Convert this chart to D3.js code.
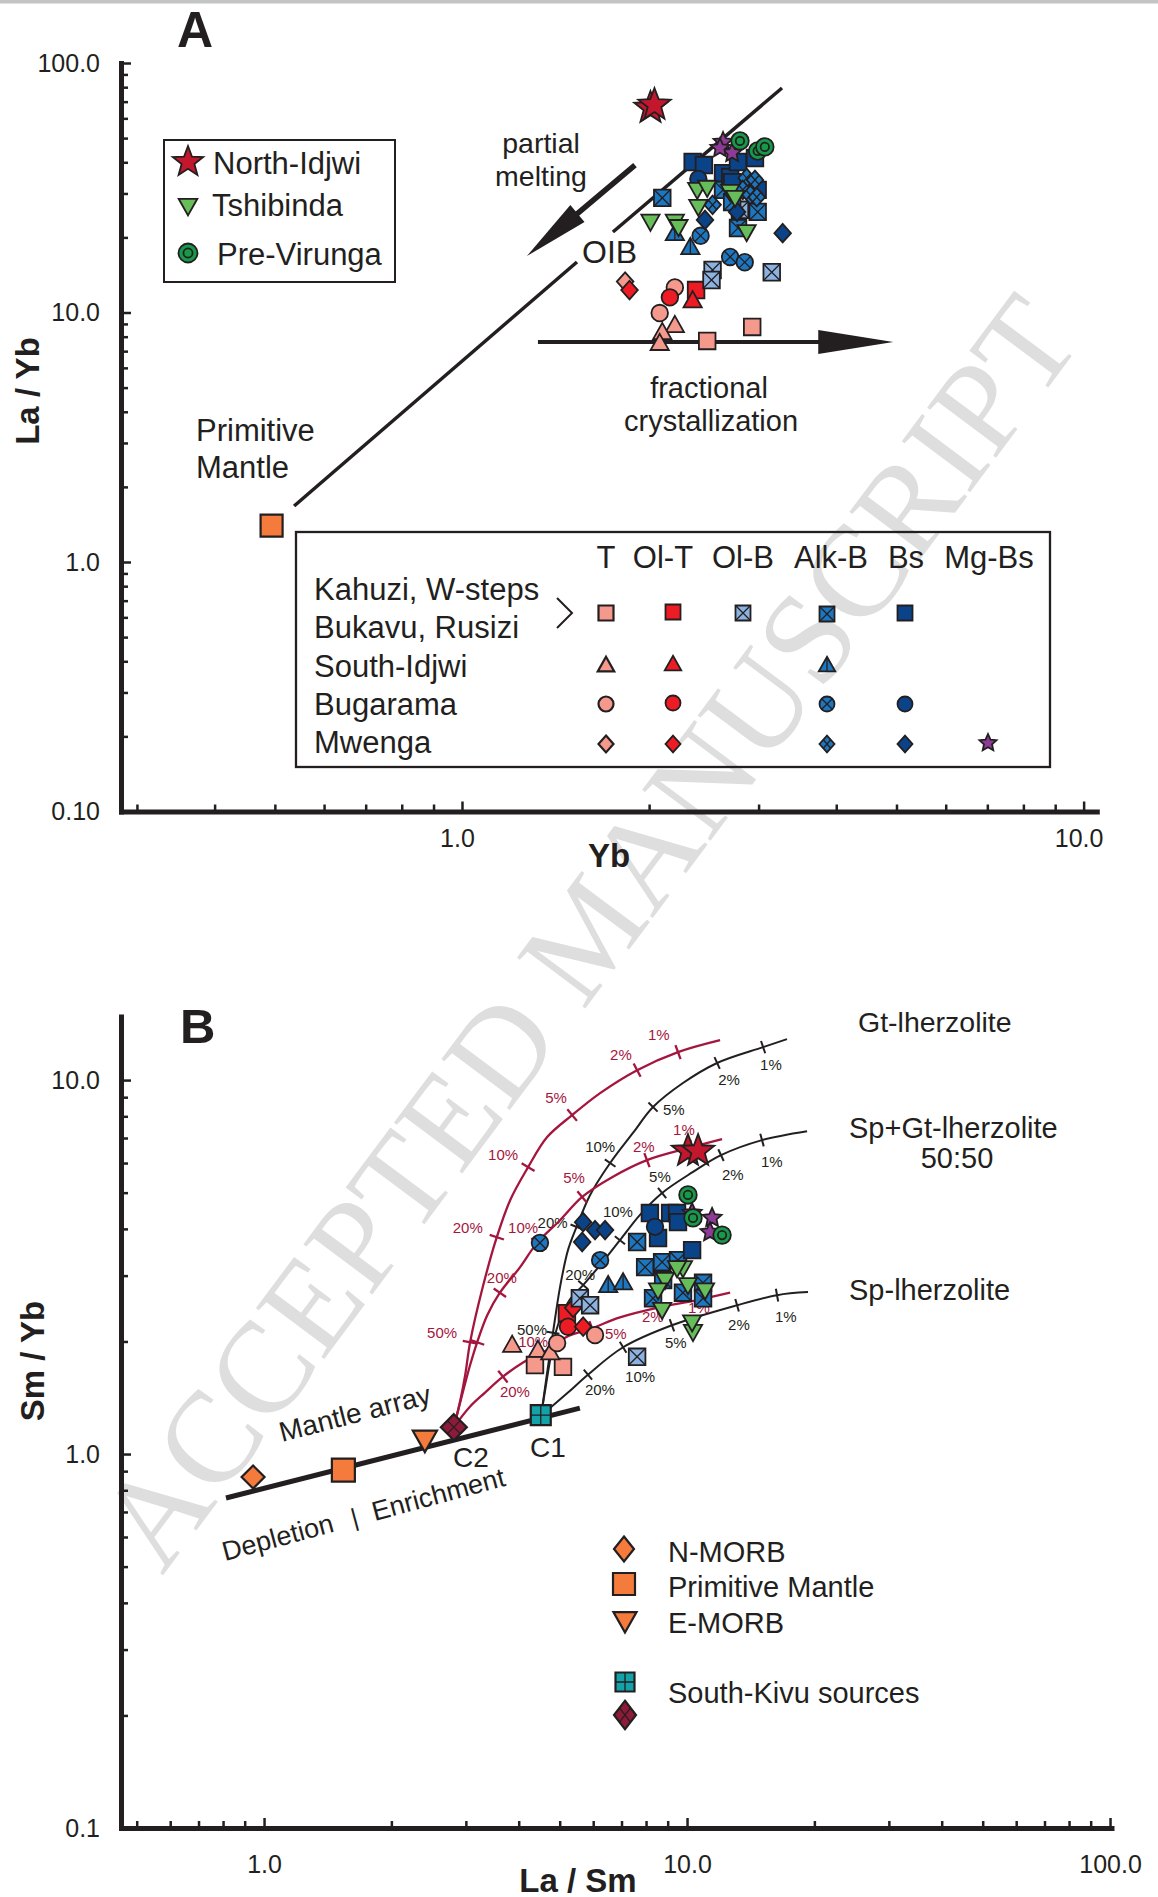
<!DOCTYPE html>
<html lang="en">
<head>
<meta charset="utf-8">
<title>La/Yb vs Yb and Sm/Yb vs La/Sm</title>
<script src="https://d3js.org/d3.v7.min.js"></script>
<style>
  body { margin: 0; background: #fff; }
  text { font-family: "Liberation Sans", Arial, Helvetica, sans-serif; }
</style>
</head>
<body>
<div id="chart"></div>
<script>
// ---------- panel A : Yb (x) vs La/Yb (y) ----------
var aT_sq      = [[2.48, 7.69], [2.93, 8.75]];
var aT_tri     = [[2.20, 8.91], [2.10, 8.35], [2.08, 7.55]];
var aT_cir     = [[2.20, 12.6], [2.08, 9.95]];
var aT_dia     = [[1.83, 13.3]];
var aOlT_sq    = [[2.38, 12.3]];
var aOlT_tri   = [[2.35, 11.2]];
var aOlT_cir   = [[2.16, 11.5]];
var aOlT_dia   = [[1.86, 12.3]];
var aOlB_sq    = [[2.80, 25.8], [2.53, 14.8], [2.52, 13.5], [3.15, 14.5]];
var aAlk_sq    = [[2.10, 28.8], [2.63, 31.0], [2.72, 27.7], [2.99, 25.3], [2.78, 21.8]];
var aAlk_tri   = [[2.20, 20.8], [2.33, 18.3]];
var aAlk_cir   = [[2.42, 20.3], [2.70, 16.7], [2.85, 15.9]];
var aAlk_dia   = [[2.87, 34.6], [2.96, 34.0], [2.83, 31.0], [2.91, 29.6], [2.53, 27.0], [2.98, 29.0]];
var aBs_sq     = [[2.35, 40.1], [2.45, 39.0], [2.63, 36.2], [2.70, 34.9], [2.78, 40.1], [2.96, 41.6], [2.99, 31.0], [2.72, 33.3]];
var aBs_cir    = [[2.40, 34.3]];
var aBs_dia    = [[2.46, 23.5], [3.28, 20.8], [2.77, 25.3]];
var aMg_star   = [[2.63, 48.2], [2.72, 43.6], [2.60, 45.6]];
var aTshibinda = [[2.01, 23.1], [2.20, 23.1], [2.39, 31.0], [2.48, 31.6], [2.40, 26.5], [2.70, 30.4], [2.75, 28.8], [2.87, 21.0], [2.23, 22.0]];
var aPreVirunga = [[2.80, 48.7], [2.99, 44.4], [3.07, 46.1]];
var aNorthIdjwi = [[2.01, 66.0], [2.04, 67.9]];
var aPrimMantle = [[0.494, 1.40]];

// annotation lines of panel A (data units)
var oibLow   = [[0.537, 1.676], [1.531, 15.94]];
var oibHigh  = [[1.749, 21.02], [3.272, 79.4]];
var meltArrow = [[1.898, 39.0], [1.272, 16.85]];
var fracArrow = [[1.325, 7.62], [4.94, 7.62]];

var aXMajor = [1, 10], aXMinor = [0.3, 0.4, 0.5, 0.6, 0.7, 0.8, 0.9, 2, 3, 4, 5, 6, 7, 8, 9];
var aXLabels = ["1.0", "10.0"];
var aYMajor = [0.1, 1, 10, 100], aYMinor = [0.2, 0.3, 0.4, 0.5, 0.6, 0.7, 0.8, 0.9, 2, 3, 4, 5, 6, 7, 8, 9, 20, 30, 40, 50, 60, 70, 80, 90];
var aYLabels = ["0.10", "1.0", "10.0", "100.0"];

// ---------- panel B : La/Sm (x) vs Sm/Yb (y) ----------
var bT_sq      = [[4.37, 1.73], [5.09, 1.71]];
var bT_tri     = [[3.86, 1.96], [4.44, 1.90], [4.75, 1.87]];
var bT_cir     = [[4.93, 1.98], [6.06, 2.08]];
var bOlT_sq    = [[5.20, 2.38]];
var bOlT_cir   = [[5.23, 2.19]];
var bOlT_dia   = [[5.68, 2.19], [5.38, 2.46]];
var bOlB_sq    = [[5.58, 2.61], [5.90, 2.50], [7.62, 1.82]];
var bAlk_sq    = [[7.62, 3.69], [7.96, 3.16], [8.73, 3.26], [8.78, 2.92], [8.31, 2.61], [9.78, 2.70], [10.91, 2.87], [10.91, 2.61], [9.52, 3.30]];
var bAlk_tri   = [[6.51, 2.83], [7.06, 2.88]];
var bAlk_cir   = [[6.23, 3.30], [4.49, 3.67]];
var bBs_sq     = [[8.17, 4.41], [9.12, 4.41], [9.47, 4.41], [9.52, 4.17], [8.54, 3.78], [10.28, 3.51]];
var bBs_cir    = [[8.40, 4.05]];
var bBs_dia    = [[5.68, 4.17], [6.06, 3.97], [6.40, 3.97], [5.65, 3.69]];
var bMg_star   = [[10.28, 4.41], [11.46, 4.28], [11.33, 3.92]];
var bTshibinda = [[9.78, 3.14], [8.87, 2.92], [8.54, 2.74], [10.05, 2.83], [11.03, 2.74], [8.73, 2.43], [10.33, 2.12], [10.28, 2.25], [9.47, 3.14]];
var bPreVirunga = [[10.05, 4.93], [10.33, 4.28], [12.10, 3.85]];
var bNorthIdjwi = [[10.05, 6.46], [10.62, 6.46]];

// reference compositions and sources
var bNMORB = [[0.942, 0.868]];
var bPM    = [[1.54, 0.906]];
var bEMORB = [[2.40, 1.09]];
var bC1    = [[4.51, 1.27]];
var bC2    = [[2.81, 1.18]];
var mantleArray = [[0.813, 0.763], [5.58, 1.327]];

// melting curves (non-modal batch melting) from C1 (black) and C2 (red)
var curveGtC1   = [[4.52, 1.27], [4.69, 1.71], [4.82, 2.11], [5.01, 2.80], [5.23, 3.51], [5.48, 4.05], [5.90, 4.93], [6.58, 6.00], [7.45, 7.22], [8.31, 8.47], [9.78, 9.82], [11.78, 11.11], [15.13, 12.25], [17.23, 12.87]];
var curveSpGtC1 = [[4.52, 1.27], [4.64, 1.53], [4.77, 1.84], [4.95, 2.21], [5.26, 2.57], [5.68, 2.83], [6.26, 3.22], [6.94, 3.73], [7.74, 4.36], [8.73, 4.99], [10.33, 5.68], [12.03, 6.30], [15.04, 6.91], [19.22, 7.30]];
var curveSpC1   = [[4.52, 1.27], [4.75, 1.33], [5.23, 1.46], [5.83, 1.63], [7.06, 1.93], [9.21, 2.21], [13.13, 2.50], [16.32, 2.66], [19.32, 2.71]];
var curveGtC2   = [[2.81, 1.18], [2.91, 1.39], [2.99, 1.63], [3.07, 1.99], [3.29, 2.80], [3.55, 3.80], [3.82, 4.78], [4.21, 5.85], [4.67, 7.04], [5.35, 8.06], [6.23, 9.23], [7.62, 10.63], [9.52, 11.88], [11.97, 12.79]];
var curveSpGtC2 = [[2.81, 1.18], [2.94, 1.44], [3.07, 1.73], [3.19, 1.99], [3.37, 2.35], [3.61, 2.70], [4.03, 3.16], [4.42, 3.67], [5.01, 4.22], [5.65, 4.87], [6.65, 5.50], [8.04, 6.11], [10.28, 6.62], [12.10, 6.95]];
var curveSpC2   = [[2.81, 1.18], [3.07, 1.34], [3.33, 1.46], [3.67, 1.61], [4.07, 1.75], [4.57, 1.87], [5.20, 2.06], [5.96, 2.17], [6.94, 2.32], [8.49, 2.46], [10.56, 2.58], [12.64, 2.70]];

var bXMajor = [1, 10, 100], bXMinor = [0.5, 0.6, 0.7, 0.8, 0.9, 2, 3, 4, 5, 6, 7, 8, 9, 20, 30, 40, 50, 60, 70, 80, 90];
var bXLabels = ["1.0", "10.0", "100.0"];
var bYMajor = [0.1, 1, 10], bYMinor = [0.2, 0.3, 0.4, 0.5, 0.6, 0.7, 0.8, 0.9, 2, 3, 4, 5, 6, 7, 8, 9];
var bYLabels = ["0.1", "1.0", "10.0"];

// colours
var ink = "#231f20", red = "#a5163e";
var cT = "#f4998c", cOlT = "#ed1c24", cOlB = "#8cb2e0", cAlk = "#1d76c0", cBs = "#0b4388",
    cMg = "#8e3b97", cTsh = "#66bd5a", cPV = "#17994a", cNI = "#c2172d", cOr = "#f47b3b",
    cTeal = "#12a2a7", cC2 = "#8c1a38";

var W = 1158, H = 1897;
var svg = d3.select("#chart").append("svg").attr("width", W).attr("height", H);

svg.append("rect").attr("x", 0).attr("y", 0).attr("width", W).attr("height", 3.5).attr("fill", "#c4c4c4");

// watermark
svg.append("text")
  .attr("transform", "translate(623,958) rotate(-53.3)")
  .attr("text-anchor", "middle")
  .style("font-family", "'Liberation Serif','Times New Roman',serif")
  .attr("font-size", "130px")
  .attr("fill", "#dedede")
  .text("ACCEPTED MANUSCRIPT");

// scales
var xA = d3.scaleLog().domain([0.2828, 10.5]).range([121, 1096.8]);
var yA = d3.scaleLog().domain([0.1, 100]).range([811.5, 63]);
var xB = d3.scaleLog().domain([0.459, 100.8]).range([121, 1111.5]);
var yB = d3.scaleLog().domain([0.1, 14.8]).range([1828, 1016.4]);

function txt(x, y, s, size, o) {
  o = o || {};
  var t = svg.append("text").attr("x", x).attr("y", y).attr("font-size", size + "px")
    .attr("fill", o.fill || ink).text(s);
  if (o.anchor) t.attr("text-anchor", o.anchor);
  if (o.bold) t.attr("font-weight", "bold");
  if (o.transform) t.attr("transform", o.transform);
  return t;
}

function styleAxis(g) {
  g.attr("font-family", null).attr("font-size", null);
  g.select(".domain").attr("stroke", ink).attr("stroke-width", 5).attr("stroke-linecap", "square");
  g.selectAll(".tick line").attr("stroke", ink).attr("stroke-width", 2.5);
  g.selectAll(".tick text").attr("fill", ink).attr("font-size", "25px");
}

function axes(xs, ys, xMaj, xMin, xLab, yMaj, yMin, yLab, xPad, xShift) {
  var y0 = ys.range()[0], x0 = xs.range()[0];
  svg.append("g").attr("transform", "translate(0," + y0 + ")")
    .call(d3.axisBottom(xs).tickValues(xMin).tickSize(-7).tickFormat(""))
    .call(function (g) { g.select(".domain").remove(); styleAxis(g); });
  svg.append("g").attr("transform", "translate(" + x0 + ",0)")
    .call(d3.axisLeft(ys).tickValues(yMin).tickSize(-7).tickFormat(""))
    .call(function (g) { g.select(".domain").remove(); styleAxis(g); });
  svg.append("g").attr("transform", "translate(0," + y0 + ")")
    .call(d3.axisBottom(xs).tickValues(xMaj).tickSize(-10).tickSizeOuter(0).tickPadding(xPad)
      .tickFormat(function (d, i) { return xLab[i]; }))
    .call(styleAxis)
    .call(function (g) { g.selectAll(".tick text").attr("dx", xShift); });
  svg.append("g").attr("transform", "translate(" + x0 + ",0)")
    .call(d3.axisLeft(ys).tickValues(yMaj).tickSize(-10).tickSizeOuter(0).tickPadding(21)
      .tickFormat(function (d, i) { return yLab[i]; }))
    .call(styleAxis);
}

// ---- marker shapes
function circ(r) { return "M" + r + ",0A" + r + "," + r + " 0 1,1 " + (-r) + ",0A" + r + "," + r + " 0 1,1 " + r + ",0Z"; }
function starP(R, r) {
  var p = [];
  for (var i = 0; i < 10; i++) {
    var a = -Math.PI / 2 + i * Math.PI / 5, q = i % 2 ? r : R;
    p.push([q * Math.cos(a), q * Math.sin(a)]);
  }
  return "M" + p.join("L") + "Z";
}
function outline(shape, s, r) {
  r = r || 1.12;
  switch (shape) {
    case "square": return "M" + (-s) + "," + (-s) + "H" + s + "V" + s + "H" + (-s) + "Z";
    case "triUp": return "M0," + (-s * 1.1) + "L" + (s * 1.1) + "," + (s * 0.85) + "H" + (-s * 1.1) + "Z";
    case "triDown": return "M0," + (s * 1.1) + "L" + (s * 1.1) + "," + (-s * 0.85) + "H" + (-s * 1.1) + "Z";
    case "diamond": return "M0," + (-s * r) + "L" + s + ",0L0," + (s * r) + "L" + (-s) + ",0Z";
    case "star": return starP(s, s * 0.47);
    case "bigstar": return starP(s, s * 0.42);
    default: return circ(s);
  }
}
function decoPath(shape, kind, s, r) {
  r = r || 1.12;
  var k = s * 0.7071, h = s * r;
  if (kind === "x" && shape === "square") return "M" + (-s) + "," + (-s) + "L" + s + "," + s + "M" + s + "," + (-s) + "L" + (-s) + "," + s;
  if (kind === "x") return "M" + (-k) + "," + (-k) + "L" + k + "," + k + "M" + k + "," + (-k) + "L" + (-k) + "," + k;
  if (kind === "plus") return "M0," + (-s) + "V" + s + "M" + (-s) + ",0H" + s;
  if (kind === "v") return "M0," + (-s * 1.1) + "V" + (s * 0.85);
  if (kind === "grid") return "M" + (-s / 2) + "," + (-h / 2) + "L" + (s / 2) + "," + (h / 2) + "M" + (s / 2) + "," + (-h / 2) + "L" + (-s / 2) + "," + (h / 2);
  if (kind === "ring") return circ(s * 0.48);
  return "";
}
function plot(data, xs, ys, st) {
  var s = st.size || 8.3;
  var m = svg.append("g").selectAll("g").data(data).join("g")
    .attr("transform", function (d) { return "translate(" + xs(d[0]) + "," + ys(d[1]) + ")"; });
  m.append("path").attr("d", outline(st.shape, s, st.ratio)).attr("fill", st.fill)
    .attr("stroke", ink).attr("stroke-width", st.sw || 1.8).attr("stroke-linejoin", "miter");
  var dk = st.deco || (st.shape === "target" ? "ring" : null);
  if (dk) m.append("path").attr("d", decoPath(st.shape, dk, s, st.ratio)).attr("fill", "none")
    .attr("stroke", ink).attr("stroke-width", dk === "ring" ? 1.8 : 1.3);
}
var ident = function (v) { return v; };
function marker(cx, cy, st) { plot([[cx, cy]], ident, ident, st); }

function arrow(p0, p1, lw, headL, headW) {
  var dx = p1[0] - p0[0], dy = p1[1] - p0[1], len = Math.hypot(dx, dy), ux = dx / len, uy = dy / len;
  var bx = p1[0] - ux * headL, by = p1[1] - uy * headL;
  svg.append("line").attr("x1", p0[0]).attr("y1", p0[1]).attr("x2", bx + ux * 4).attr("y2", by + uy * 4)
    .attr("stroke", ink).attr("stroke-width", lw);
  svg.append("path").attr("d", "M" + p1[0] + "," + p1[1] + "L" + (bx - uy * headW) + "," + (by + ux * headW) +
    "L" + (bx + uy * headW) + "," + (by - ux * headW) + "Z").attr("fill", ink);
}

// ================= PANEL A =================
axes(xA, yA, aXMajor, aXMinor, aXLabels, aYMajor, aYMinor, aYLabels, 18, -5);

var lineA = d3.line().x(function (d) { return xA(d[0]); }).y(function (d) { return yA(d[1]); });
[oibLow, oibHigh].forEach(function (seg) {
  svg.append("path").datum(seg).attr("d", lineA).attr("stroke", ink).attr("stroke-width", 3.5).attr("fill", "none");
});
arrow([xA(meltArrow[0][0]), yA(meltArrow[0][1])], [xA(meltArrow[1][0]), yA(meltArrow[1][1])], 5.5, 66, 11);
arrow([xA(fracArrow[0][0]), yA(fracArrow[0][1])], [xA(fracArrow[1][0]), yA(fracArrow[1][1])], 4, 75, 12);

txt(177, 47, "A", 50, { bold: true });
txt(541, 153, "partial", 28.5, { anchor: "middle" });
txt(541, 186, "melting", 28.5, { anchor: "middle" });
txt(582, 263, "OIB", 32);
txt(709, 398, "fractional", 29, { anchor: "middle" });
txt(711, 431, "crystallization", 29, { anchor: "middle" });
txt(196, 441, "Primitive", 31);
txt(196, 478, "Mantle", 31);
txt(0, 0, "La / Yb", 33, { bold: true, anchor: "middle", transform: "translate(39,391) rotate(-90)" });
txt(609, 867, "Yb", 33, { bold: true, anchor: "middle" });

var seriesA = [
  { data: aT_sq, shape: "square", fill: cT },
  { data: aT_tri, shape: "triUp", fill: cT },
  { data: aT_cir, shape: "circle", fill: cT },
  { data: aT_dia, shape: "diamond", fill: cT },
  { data: aOlT_sq, shape: "square", fill: cOlT },
  { data: aOlT_tri, shape: "triUp", fill: cOlT },
  { data: aOlT_cir, shape: "circle", fill: cOlT },
  { data: aOlT_dia, shape: "diamond", fill: cOlT },
  { data: aOlB_sq, shape: "square", fill: cOlB, deco: "x" },
  { data: aAlk_sq, shape: "square", fill: cAlk, deco: "x" },
  { data: aAlk_tri, shape: "triUp", fill: cAlk, deco: "v" },
  { data: aAlk_cir, shape: "circle", fill: cAlk, deco: "x" },
  { data: aBs_sq, shape: "square", fill: cBs },
  { data: aBs_cir, shape: "circle", fill: cBs },
  { data: aAlk_dia, shape: "diamond", fill: cAlk, deco: "grid" },
  { data: aBs_dia, shape: "diamond", fill: cBs },
  { data: aTshibinda, shape: "triDown", fill: cTsh },
  { data: aMg_star, shape: "star", fill: cMg, size: 10 },
  { data: aPreVirunga, shape: "target", fill: cPV, size: 8.8 },
  { data: aNorthIdjwi, shape: "bigstar", fill: cNI, size: 17 },
  { data: aPrimMantle, shape: "square", fill: cOr, size: 11, sw: 2.2 }
];
seriesA.forEach(function (s) { plot(s.data, xA, yA, s); });

// legend: provinces
svg.append("rect").attr("x", 164).attr("y", 140).attr("width", 231).attr("height", 142)
  .attr("fill", "none").attr("stroke", ink).attr("stroke-width", 2);
marker(188, 162, { shape: "bigstar", fill: cNI, size: 16 });
marker(188, 206, { shape: "triDown", fill: cTsh, size: 8.5 });
marker(188, 253, { shape: "target", fill: cPV, size: 9.5 });
txt(213, 174, "North-Idjwi", 31);
txt(212, 216, "Tshibinda", 31);
txt(217, 265, "Pre-Virunga", 31);

// legend: rock types per area
svg.append("rect").attr("x", 296).attr("y", 532).attr("width", 754).attr("height", 235)
  .attr("fill", "none").attr("stroke", ink).attr("stroke-width", 2.3);
var colHead = ["T", "Ol-T", "Ol-B", "Alk-B", "Bs", "Mg-Bs"];
var colHeadX = [606, 663, 743, 831, 906, 989];
colHead.forEach(function (h, i) { txt(colHeadX[i], 568, h, 31, { anchor: "middle" }); });
var rowLab = ["Kahuzi, W-steps", "Bukavu, Rusizi", "South-Idjwi", "Bugarama", "Mwenga"];
var rowLabY = [600, 638, 677, 715, 753];
rowLab.forEach(function (r, i) { txt(314, rowLabY[i], r, 31); });
svg.append("path").attr("d", "M557,598L572,613L557,628").attr("fill", "none").attr("stroke", ink).attr("stroke-width", 2);
var cx = { T: 606, OlT: 673, OlB: 743, Alk: 827, Bs: 905, Mg: 988 };
var ls = 7.5;
marker(cx.T, 613, { shape: "square", fill: cT, size: ls, sw: 2.2 });
marker(cx.OlT, 612, { shape: "square", fill: cOlT, size: ls });
marker(cx.OlB, 613, { shape: "square", fill: cOlB, deco: "x", size: ls });
marker(cx.Alk, 614, { shape: "square", fill: cAlk, deco: "x", size: ls });
marker(cx.Bs, 613, { shape: "square", fill: cBs, size: ls });
marker(cx.T, 665, { shape: "triUp", fill: cT, size: ls, sw: 2.2 });
marker(cx.OlT, 664, { shape: "triUp", fill: cOlT, size: ls });
marker(cx.Alk, 665, { shape: "triUp", fill: cAlk, deco: "v", size: ls });
marker(cx.T, 704, { shape: "circle", fill: cT, size: ls, sw: 2.2 });
marker(cx.OlT, 703, { shape: "circle", fill: cOlT, size: ls });
marker(cx.Alk, 704, { shape: "circle", fill: cAlk, deco: "x", size: ls });
marker(cx.Bs, 704, { shape: "circle", fill: cBs, size: ls });
marker(cx.T, 744, { shape: "diamond", fill: cT, size: ls, sw: 2.2 });
marker(cx.OlT, 744, { shape: "diamond", fill: cOlT, size: ls });
marker(cx.Alk, 744, { shape: "diamond", fill: cAlk, deco: "grid", size: ls });
marker(cx.Bs, 744, { shape: "diamond", fill: cBs, size: ls });
marker(cx.Mg, 743, { shape: "star", fill: cMg, size: 9 });

// ================= PANEL B =================
axes(xB, yB, bXMajor, bXMinor, bXLabels, bYMajor, bYMinor, bYLabels, 27, 0);

var lineB = d3.line().x(function (d) { return xB(d[0]); }).y(function (d) { return yB(d[1]); });
var curveB = d3.line().x(function (d) { return xB(d[0]); }).y(function (d) { return yB(d[1]); }).curve(d3.curveCatmullRom.alpha(0.5));

svg.append("path").datum(mantleArray).attr("d", lineB).attr("stroke", ink).attr("stroke-width", 5).attr("fill", "none");

var curvesB = [
  { pts: curveGtC1, color: ink, ticks: [2, 5, 7, 9, 11, 12], labels: ["50%", "20%", "10%", "5%", "2%", "1%"],
    off: [[-36, 2], [-39, 1], [-25, -11], [10, 8], [1, 22], [-3, 23]] },
  { pts: curveSpGtC1, color: ink, ticks: [5, 7, 9, 11, 12], labels: ["20%", "10%", "5%", "2%", "1%"],
    off: [[-18, -5], [-17, -23], [-13, -11], [1, 25], [-1, 27]] },
  { pts: curveSpC1, color: ink, ticks: [3, 4, 5, 6, 7], labels: ["20%", "10%", "5%", "2%", "1%"],
    off: [[-3, 20], [2, 35], [-7, 23], [-9, 25], [-2, 27]] },
  { pts: curveGtC2, color: red, ticks: [3, 5, 7, 9, 11, 12], labels: ["50%", "20%", "10%", "5%", "2%", "1%"],
    off: [[-43, -4], [-44, -4], [-40, -7], [-27, -12], [-27, -10], [-30, -12]] },
  { pts: curveSpGtC2, color: red, ticks: [3, 5, 7, 9, 11, 12], labels: ["", "20%", "10%", "5%", "2%", "1%"],
    off: [[0, 0], [-13, -10], [-29, -10], [-19, -14], [-14, -8], [-19, -12]] },
  { pts: curveSpC2, color: red, ticks: [3, 5, 7, 9, 10], labels: ["20%", "10%", "5%", "2%", "1%"],
    off: [[-3, 20], [-25, -5], [13, 11], [-15, 14], [-9, 13]] }
];
curvesB.forEach(function (c) {
  var px = c.pts.map(function (d) { return [xB(d[0]), yB(d[1])]; });
  svg.append("path").datum(c.pts).attr("d", curveB).attr("fill", "none")
    .attr("stroke", c.color).attr("stroke-width", c.color === red ? 2.3 : 2);
  c.ticks.forEach(function (i, k) {
    var a = px[i - 1], b = px[i + 1], p = px[i];
    var dx = b[0] - a[0], dy = b[1] - a[1], L = Math.hypot(dx, dy), nx = -dy / L, ny = dx / L, h = c.color === red ? 7.5 : 6.5;
    svg.append("line").attr("x1", p[0] - nx * h).attr("y1", p[1] - ny * h).attr("x2", p[0] + nx * h).attr("y2", p[1] + ny * h)
      .attr("stroke", c.color).attr("stroke-width", c.color === red ? 2.3 : 2);
    if (c.labels[k]) txt(p[0] + c.off[k][0], p[1] + c.off[k][1], c.labels[k], 15, { fill: c.color });
  });
});

var seriesB = [
  { data: bT_sq, shape: "square", fill: cT },
  { data: bT_tri, shape: "triUp", fill: cT },
  { data: bT_cir, shape: "circle", fill: cT },
  { data: bOlT_sq, shape: "square", fill: cOlT },
  { data: bOlT_cir, shape: "circle", fill: cOlT },
  { data: bOlT_dia, shape: "diamond", fill: cOlT },
  { data: bOlB_sq, shape: "square", fill: cOlB, deco: "x" },
  { data: bAlk_sq, shape: "square", fill: cAlk, deco: "x" },
  { data: bAlk_tri, shape: "triUp", fill: cAlk, deco: "v" },
  { data: bAlk_cir, shape: "circle", fill: cAlk, deco: "x" },
  { data: bBs_sq, shape: "square", fill: cBs },
  { data: bBs_cir, shape: "circle", fill: cBs },
  { data: bBs_dia, shape: "diamond", fill: cBs },
  { data: bTshibinda, shape: "triDown", fill: cTsh },
  { data: bMg_star, shape: "star", fill: cMg, size: 10 },
  { data: bPreVirunga, shape: "target", fill: cPV, size: 8.8 },
  { data: bNorthIdjwi, shape: "bigstar", fill: cNI, size: 17 },
  { data: bNMORB, shape: "diamond", fill: cOr, size: 11.5, ratio: 1.0, sw: 2.2 },
  { data: bPM, shape: "square", fill: cOr, size: 11.5, sw: 2.2 },
  { data: bEMORB, shape: "triDown", fill: cOr, size: 11, sw: 2.2 },
  { data: bC2, shape: "diamond", fill: cC2, deco: "grid", size: 13, ratio: 1.0, sw: 2.2 },
  { data: bC1, shape: "square", fill: cTeal, deco: "plus", size: 10, sw: 2.2 }
];
seriesB.forEach(function (s) { plot(s.data, xB, yB, s); });

txt(180, 1043, "B", 49, { bold: true });
txt(0, 0, "Mantle array", 28, { transform: "translate(282,1442) rotate(-14.5)" });
txt(0, 0, "Depletion", 27, { transform: "translate(225,1561) rotate(-15)" });
txt(0, 0, "|", 25, { transform: "translate(225,1561) rotate(-15) translate(133,0)" });
txt(0, 0, "Enrichment", 27, { transform: "translate(225,1561) rotate(-15) translate(155,0)" });
txt(453, 1467, "C2", 28);
txt(530, 1457, "C1", 28);
txt(858, 1032, "Gt-lherzolite", 28.5);
txt(849, 1138, "Sp+Gt-lherzolite", 29);
txt(957, 1168, "50:50", 29, { anchor: "middle" });
txt(849, 1300, "Sp-lherzolite", 29);
txt(0, 0, "Sm / Yb", 33, { bold: true, anchor: "middle", transform: "translate(44,1361) rotate(-90)" });
txt(578, 1892, "La / Sm", 33, { bold: true, anchor: "middle" });

// legend B
marker(624, 1549, { shape: "diamond", fill: cOr, size: 10, ratio: 1.25, sw: 2.2 });
marker(624, 1584, { shape: "square", fill: cOr, size: 11, sw: 2.2 });
marker(625, 1621, { shape: "triDown", fill: cOr, size: 10.5, sw: 2.2 });
marker(625, 1682, { shape: "square", fill: cTeal, deco: "plus", size: 9.5, sw: 2.2 });
marker(625, 1715, { shape: "diamond", fill: cC2, deco: "grid", size: 11, ratio: 1.3, sw: 2.2 });
txt(668, 1562, "N-MORB", 29);
txt(668, 1597, "Primitive Mantle", 29);
txt(668, 1633, "E-MORB", 29);
txt(668, 1703, "South-Kivu sources", 29);
</script>
</body>
</html>
